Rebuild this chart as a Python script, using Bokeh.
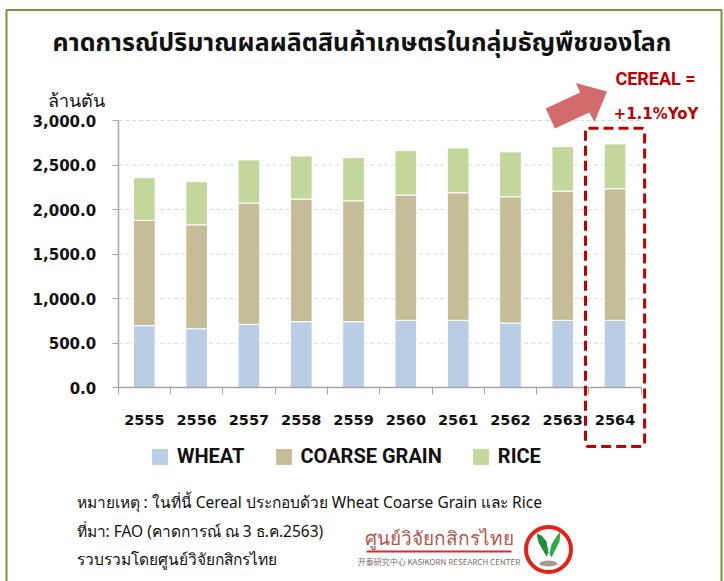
from bokeh.plotting import figure
from bokeh.models import (Range1d, LinearAxis, FixedTicker, NumeralTickFormatter, Label,
                          BoxAnnotation, Legend, LegendItem, ColumnDataSource)
from bokeh.embed import file_html
from bokeh.resources import INLINE

# ---------------- data ----------------
years = ["2555", "2556", "2557", "2558", "2559", "2560", "2561", "2562", "2563", "2564"]
wheat = [697, 663, 712, 742, 742, 757, 757, 727, 757, 757]
coarse_grain = [1182, 1166, 1361, 1376, 1357, 1406, 1432, 1417, 1451, 1477]
rice = [479, 484, 484, 484, 484, 499, 503, 503, 499, 503]
series_names = ["WHEAT", "COARSE GRAIN", "RICE"]
series_colors = ["#B9CDE5", "#C4BD97", "#C3D69B"]
y_ticks = [0, 500, 1000, 1500, 2000, 2500, 3000]
highlight_year = "2564"

title_text = "คาดการณ์ปริมาณผลผลิตสินค้าเกษตรในกลุ่มธัญพืชของโลก"
unit_text = "ล้านตัน"
callout_lines = ["CEREAL =", "+1.1%YoY"]
note_lines = [
    "หมายเหตุ : ในที่นี้ Cereal ประกอบด้วย Wheat Coarse Grain และ Rice",
    "ที่มา: FAO (คาดการณ์ ณ 3 ธ.ค.2563)",
    "รวบรวมโดยศูนย์วิจัยกสิกรไทย",
]
logo_text = "ศูนย์วิจัยกสิกรไทย"
logo_sub = "开泰研究中心 KASIKORN RESEARCH CENTER"

# ---------------- layout ----------------
W, H = 724, 581
PAGE = 0
X0, DX = 117.7, 52.3              # page px of x=0, px per category
Y0, DY = 387.3, 267.3 / 3000.0    # page px of y=0, px per unit


def fx(px):
    return (px - X0) / DX


def fy(py):
    return (Y0 - py) / DY


p = figure(width=W, height=H,
           x_range=Range1d(fx(PAGE), fx(PAGE + W)),
           y_range=Range1d(fy(PAGE + H), fy(PAGE)),
           x_axis_type=None, y_axis_type=None,
           toolbar_location=None, output_backend="svg",
           min_border=0, title=None)
p.outline_line_color = None
p.background_fill_color = "white"
p.border_fill_color = "white"

n = len(years)
xs = [i + 0.5 for i in range(n)]

# gridlines
p.segment(x0=0, x1=n, y0=y_ticks[1:], y1=y_ticks[1:],
          line_color="#D9D9D9", line_width=1, line_dash="4 3")

# stacked bars
src = ColumnDataSource(dict(x=xs, WHEAT=wheat, **{"COARSE GRAIN": coarse_grain}, RICE=rice))
renderers = p.vbar_stack(series_names, x="x", width=0.415, source=src,
                         fill_color=series_colors, line_color="white", line_width=1)

# axes
axis_gray = "#A6A6A6"
yaxis = LinearAxis(fixed_location=0, bounds=(0, 3000),
                   ticker=FixedTicker(ticks=y_ticks, minor_ticks=[]),
                   formatter=NumeralTickFormatter(format="0,0.0"),
                   axis_line_color=axis_gray, axis_line_width=1.5,
                   major_tick_line_color=axis_gray, major_tick_out=6, major_tick_in=0,
                   minor_tick_line_color=None,
                   major_label_text_font="DejaVu Sans",
                   major_label_text_font_style="bold",
                   major_label_text_font_size="15px",
                   major_label_text_color="#111111",
                   major_label_standoff=16)
p.add_layout(yaxis, "left")

xaxis = LinearAxis(fixed_location=0, bounds=(0, n),
                   ticker=FixedTicker(ticks=xs, minor_ticks=list(range(n + 1))),
                   major_label_overrides={x: y for x, y in zip(xs, years)},
                   axis_line_color=axis_gray, axis_line_width=1.5,
                   major_tick_line_color=None, major_tick_out=0, major_tick_in=0,
                   minor_tick_line_color=axis_gray, minor_tick_out=7, minor_tick_in=0,
                   major_label_text_font="DejaVu Sans",
                   major_label_text_font_style="bold",
                   major_label_text_font_size="14.5px",
                   major_label_text_color="#111111",
                   major_label_standoff=20)
p.add_layout(xaxis, "below")

# legend
legend = Legend(items=[LegendItem(label=nm, renderers=[r]) for nm, r in zip(series_names, renderers)],
                orientation="horizontal", location=(149, H - 468),
                glyph_width=21, glyph_height=21, label_standoff=7, spacing=28,
                padding=0, margin=0, border_line_color=None, background_fill_alpha=0,
                label_text_font="Roboto", label_text_font_style="bold",
                label_text_font_size="20px", label_text_color="#111111")
p.add_layout(legend)

# highlight box around the last year
hi = years.index(highlight_year) + 0.5
p.add_layout(BoxAnnotation(left=hi - 0.565, right=hi + 0.565, top=fy(127.7), bottom=fy(446),
                           fill_color=None, fill_alpha=0, line_color="#C00000", line_alpha=1,
                           line_width=3, line_dash="10 5", border_radius=3))

# outer frame
p.add_layout(BoxAnnotation(left=fx(6), right=fx(721), top=fy(9.5), bottom=fy(600),
                           fill_color=None, fill_alpha=0, line_color="#77933C", line_alpha=1,
                           line_width=2))

# arrow
arrow_px = [(545.2, 108.0), (579.6, 92.1), (575.4, 82.5), (606.5, 91.0),
            (594.0, 121.5), (588.8, 112.1), (554.4, 128.0)]
p.patch([fx(a) for a, b in arrow_px], [fy(b) for a, b in arrow_px],
        fill_color="#D26B6B", line_color=None)

# texts
p.add_layout(Label(x=fx(361.5), y=fy(42), text=title_text, text_align="center",
                   text_baseline="middle", text_font="Noto Sans Thai",
                   text_font_style="bold", text_font_size="25px", text_color="#111111"))
p.add_layout(Label(x=fx(76), y=fy(99), text=unit_text, text_align="center",
                   text_baseline="middle", text_font="Noto Sans",
                   text_font_size="18px", text_color="#111111"))
p.add_layout(Label(x=fx(655), y=fy(78), text=callout_lines[0], text_align="center",
                   text_baseline="middle", text_font="Roboto",
                   text_font_style="bold", text_font_size="18px", text_color="#C00000"))
p.add_layout(Label(x=fx(655.5), y=fy(113), text=callout_lines[1], text_align="center",
                   text_baseline="middle", text_font="DejaVu Sans",
                   text_font_style="bold", text_font_size="15px", text_color="#C00000"))

for line, yy in zip(note_lines, [501, 530, 558]):
    p.add_layout(Label(x=fx(76), y=fy(yy), text=line, text_align="left",
                       text_baseline="middle", text_font="Noto Sans",
                       text_font_size="15.5px", text_color="#111111"))

# logo
p.add_layout(Label(x=fx(438.5), y=fy(537), text=logo_text, text_align="center",
                   text_baseline="middle", text_font="Noto Sans",
                   text_font_size="19px", text_color="#B4554F"))
p.segment(x0=fx(366), x1=fx(511), y0=fy(551), y1=fy(551), line_color="#E3262D", line_width=2)
p.add_layout(Label(x=fx(438.5), y=fy(561), text=logo_sub, text_align="center",
                   text_baseline="middle", text_font="Noto Sans CJK SC",
                   text_font_size="8px", text_color="#7A6A60"))
p.scatter(x=[fx(548)], y=[fy(549)], size=45, marker="circle",
          fill_color="white", line_color="#E2231A", line_width=4)
leaf_l = [(536, 533), (541, 535), (546, 541), (548, 552), (546, 556), (542, 549), (538, 542)]
leaf_r = [(560, 531), (556, 536), (551, 544), (549, 553), (551, 557), (555, 549), (559, 541)]
p.patches([[fx(a) for a, b in leaf_l], [fx(a) for a, b in leaf_r]],
          [[fy(b) for a, b in leaf_l], [fy(b) for a, b in leaf_r]],
          fill_color=["#1F8F3A", "#2EA84A"], line_color=None)
p.ellipse(x=[fx(548)], y=[fy(563)], width=18 / DX, height=6 / DY,
          fill_color="#A89890", line_color=None)

open("out.html", "w").write(file_html(p, INLINE))
